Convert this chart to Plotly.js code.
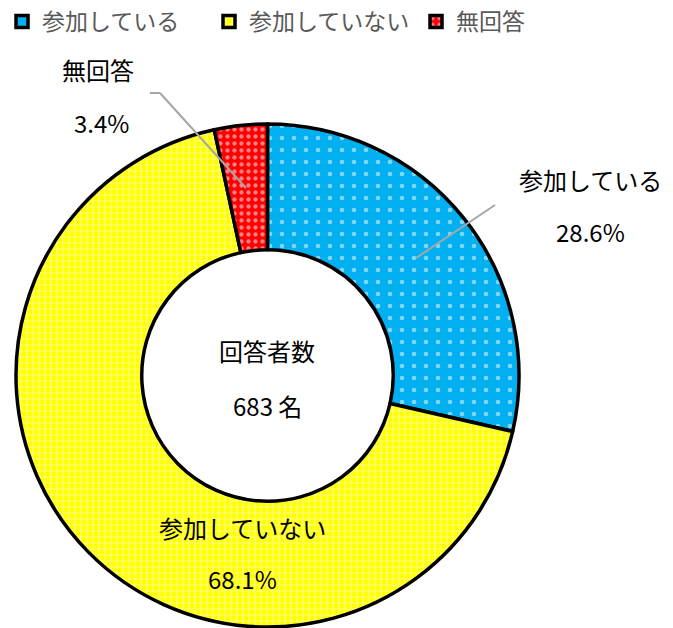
<!DOCTYPE html>
<html><head><meta charset="utf-8">
<script src="https://cdn.plot.ly/plotly-3.0.1.min.js"></script>
<style>body{margin:0;background:#fff}</style>
</head><body>
<div id="chart" style="width:673px;height:628px"></div>
<script>
const labels = ["参加している", "参加していない", "無回答"];
const values = [28.6, 68.1, 3.4];
const colors = ["#00B0F0", "#FFFF00", "#FF0000"];
const centerTitle = "回答者数";
const centerValue = "683 名";

const W = 673, H = 628;
const px = x => x / W;
const py = y => 1 - y / H;
const font = "Meiryo, 'Noto Sans CJK JP', sans-serif";

const trace = {
  type: "pie",
  labels: labels,
  values: values,
  sort: false,
  direction: "clockwise",
  rotation: 0,
  hole: 0.5,
  textinfo: "none",
  domain: {x: [px(15), px(520)], y: [py(627), py(124)]},
  marker: {
    colors: colors,
    line: {color: "#000000", width: 3.5},
    pattern: {
      shape: [".", "+", "."],
      fgcolor: ["#ffffff", "#ffffff", "#ffffff"],
      bgcolor: colors,
      size: [12, 6, 7],
      solidity: [0.12, 0.35, 0.3],
      fillmode: "overlay"
    }
  },
  showlegend: true
};

const pct = values.map(v => v.toFixed(1) + "%");
const annots = [
  {x: px(267), y: py(350), text: centerTitle},
  {x: px(267), y: py(405), text: centerValue},
  {x: px(590), y: py(180), text: labels[0]},
  {x: px(590), y: py(232), text: pct[0]},
  {x: px(242), y: py(527), text: labels[1]},
  {x: px(242), y: py(578), text: pct[1]},
  {x: px(98), y: py(70), text: labels[2]},
  {x: px(101), y: py(122), text: pct[2]}
].map(a => Object.assign({xref: "paper", yref: "paper", showarrow: false,
  xanchor: "center", yanchor: "middle", font: {family: font, size: 24, color: "#000"}}, a));

const shapes = [
  {type: "line", xref: "paper", yref: "paper", x0: px(416), y0: py(258), x1: px(495), y1: py(205),
   line: {color: "#A6A6A6", width: 2}},
  {type: "line", xref: "paper", yref: "paper", x0: px(150), y0: py(93), x1: px(160), y1: py(93),
   line: {color: "#A6A6A6", width: 2}},
  {type: "line", xref: "paper", yref: "paper", x0: px(160), y0: py(93), x1: px(246), y1: py(188),
   line: {color: "#A6A6A6", width: 2}}
];

const layout = {
  width: W, height: H,
  margin: {l: 0, r: 0, t: 0, b: 0, autoexpand: false},
  paper_bgcolor: "#fff",
  showlegend: true,
  legend: {orientation: "h", x: 0.003, y: 1.0, xanchor: "left", yanchor: "top",
    entrywidth: 162, entrywidthmode: "pixels",
    font: {family: font, size: 23, color: "#595959"}, itemwidth: 30, tracegroupgap: 0},
  annotations: annots,
  shapes: shapes
};

Plotly.newPlot("chart", [trace], layout, {displayModeBar: false});
</script>
</body></html>
